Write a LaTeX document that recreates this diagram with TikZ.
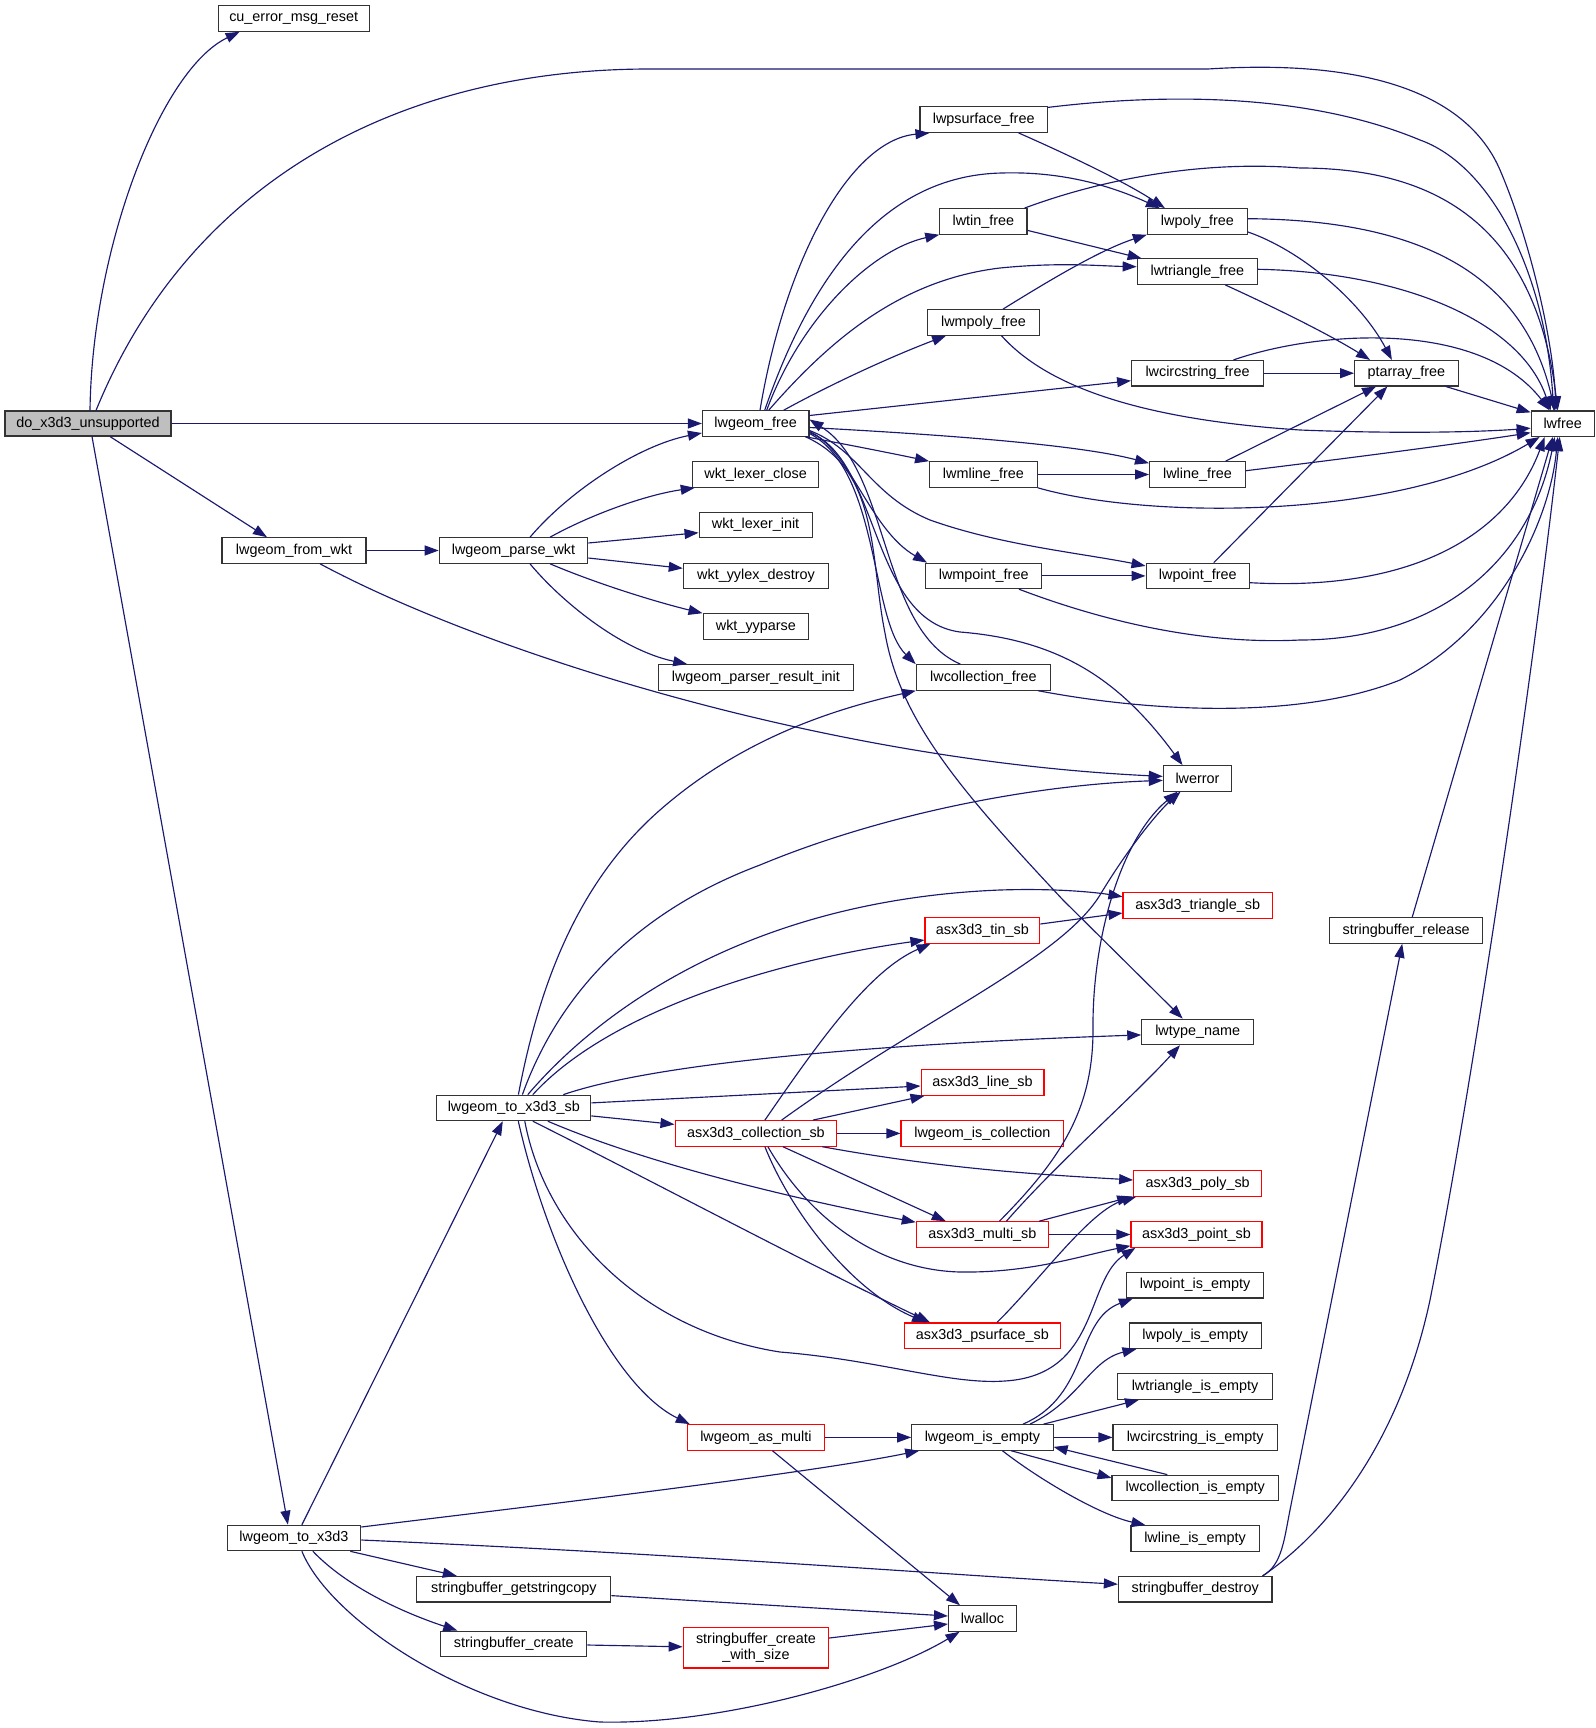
\documentclass[tikz,border=0pt]{standalone}
\usepackage{fontspec}
\setmainfont{Liberation Sans}
\usetikzlibrary{arrows.meta,calc}
\definecolor{edgec}{HTML}{191970}
\definecolor{bordc}{HTML}{333333}
\definecolor{redc}{HTML}{FF0000}
\definecolor{grayfill}{HTML}{BFBFBF}
\tikzset{
  nb/.style={draw=bordc, line width=1.1pt, fill=white, inner sep=0pt, minimum height=25.5pt, font=\fontsize{14.4}{15.5}\selectfont, text=black},
  rb/.style={nb, draw=redc},
  gb/.style={nb, fill=grayfill, minimum height=25pt},
  ed/.style={draw=edgec, line width=1.15pt, -{Triangle[length=14pt,width=10pt]}}
}
\begin{document}
\begin{tikzpicture}[x=1pt,y=-1pt]
\useasboundingbox (0,0) rectangle (1595,1728);
% nodes
\node[gb, minimum width=166pt] (do) at (88,423.5) {do\_x3d3\_unsupported};
\node[nb, minimum width=151pt] (cu) at (293.7,18.5) {cu\_error\_msg\_reset};
\node[nb, minimum width=63pt] (lwfree) at (1562.7,423.7) {lwfree};
\node[nb, minimum width=106.5pt] (lgfree) at (755.7,423.5) {lwgeom\_free};
\node[nb, minimum width=144pt] (fromwkt) at (294,550.5) {lwgeom\_from\_wkt};
\node[nb, minimum width=148.5pt] (parsewkt) at (513.5,550.5) {lwgeom\_parse\_wkt};
\node[nb, minimum width=126.6pt] (wlc) at (755.6,474.5) {wkt\_lexer\_close};
\node[nb, minimum width=113pt] (wli) at (755.6,525) {wkt\_lexer\_init};
\node[nb, minimum width=145.4pt] (wyd) at (756,576) {wkt\_yylex\_destroy};
\node[nb, minimum width=105.7pt] (wyp) at (755.9,626.5) {wkt\_yyparse};
\node[nb, minimum width=194.3pt] (prs) at (755.9,677.4) {lwgeom\_parser\_result\_init};
\node[nb, minimum width=127.4pt] (psf) at (983.7,119.7) {lwpsurface\_free};
\node[nb, minimum width=87.2pt] (tinf) at (983.4,221.4) {lwtin\_free};
\node[nb, minimum width=111.7pt] (mpolyf) at (983.5,322.4) {lwmpoly\_free};
\node[nb, minimum width=107.6pt] (mlinef) at (983.4,474.5) {lwmline\_free};
\node[nb, minimum width=116.3pt] (mpointf) at (983.7,575.9) {lwmpoint\_free};
\node[nb, minimum width=134.2pt] (collf) at (983.4,677.4) {lwcollection\_free};
\node[nb, minimum width=100pt] (polyf) at (1197.4,221.4) {lwpoly\_free};
\node[nb, minimum width=120.4pt] (trif) at (1197.4,271.7) {lwtriangle\_free};
\node[nb, minimum width=131.7pt] (circf) at (1197.5,373.2) {lwcircstring\_free};
\node[nb, minimum width=95.9pt] (linef) at (1197.5,474.5) {lwline\_free};
\node[nb, minimum width=103.5pt] (pointf) at (1197.8,575.9) {lwpoint\_free};
\node[nb, minimum width=68.3pt] (lwerror) at (1197.5,778.4) {lwerror};
\node[nb, minimum width=103.6pt] (ptaf) at (1406.4,373.2) {ptarray\_free};
\node[nb, minimum width=154pt] (tosb) at (513.8,1107.9) {lwgeom\_to\_x3d3\_sb};
\node[rb, minimum width=149.4pt] (trisb) at (1197.7,905.4) {asx3d3\_triangle\_sb};
\node[rb, minimum width=114.8pt] (tinsb) at (982.4,930.5) {asx3d3\_tin\_sb};
\node[nb, minimum width=111.8pt] (tname) at (1197.7,1031.9) {lwtype\_name};
\node[rb, minimum width=122.9pt] (linesb) at (982.5,1082.5) {asx3d3\_line\_sb};
\node[rb, minimum width=161.7pt] (collsb) at (755.9,1133.4) {asx3d3\_collection\_sb};
\node[rb, minimum width=162.8pt] (iscoll) at (982.4,1133.4) {lwgeom\_is\_collection};
\node[rb, minimum width=128pt] (polysb) at (1197.7,1183.5) {asx3d3\_poly\_sb};
\node[rb, minimum width=132.2pt] (multisb) at (982.4,1234.5) {asx3d3\_multi\_sb};
\node[rb, minimum width=131pt] (pointsb) at (1196.5,1234.5) {asx3d3\_point\_sb};
\node[nb, minimum width=137.4pt] (ptempty) at (1195.1,1285.2) {lwpoint\_is\_empty};
\node[rb, minimum width=155.6pt] (psfsb) at (982.4,1335.7) {asx3d3\_psurface\_sb};
\node[nb, minimum width=132.5pt] (polyempty) at (1195.3,1335.7) {lwpoly\_is\_empty};
\node[nb, minimum width=155pt] (triempty) at (1195,1386.5) {lwtriangle\_is\_empty};
\node[rb, minimum width=137.3pt] (asmulti) at (755.9,1437.4) {lwgeom\_as\_multi};
\node[nb, minimum width=141.3pt] (isempty) at (982.4,1437.4) {lwgeom\_is\_empty};
\node[nb, minimum width=164.4pt] (circempty) at (1195.2,1437.4) {lwcircstring\_is\_empty};
\node[nb, minimum width=166.6pt] (collempty) at (1195.3,1487.9) {lwcollection\_is\_empty};
\node[nb, minimum width=128.2pt] (lineempty) at (1195.1,1538.4) {lwline\_is\_empty};
\node[nb, minimum width=133.7pt] (tox3d3) at (293.9,1538) {lwgeom\_to\_x3d3};
\node[nb, minimum width=193.9pt] (sgsc) at (513.8,1589.2) {stringbuffer\_getstringcopy};
\node[nb, minimum width=153.6pt] (sdestroy) at (1195.2,1589.2) {stringbuffer\_destroy};
\node[nb, minimum width=68pt] (lwalloc) at (982.5,1618.5) {lwalloc};
\node[nb, minimum width=145.9pt] (screate) at (513.8,1643.8) {stringbuffer\_create};
\node[rb, minimum width=145.4pt, minimum height=40.4pt, align=center] (scws) at (755.9,1647.8) {stringbuffer\_create\\\_with\_size};
\node[nb, minimum width=153.1pt] (srelease) at (1406.2,930.5) {stringbuffer\_release};
% edges from do_x3d3_unsupported
\draw[ed] ($(do.north)+(2,0)$) .. controls (92,250) and (160,70) .. ($(cu.south west)+(22,0)$);
\draw[ed] ($(do.north)+(8,0)$) .. controls (190,180) and (400,69) .. (650,69) -- (1208,69) .. controls (1380,58) and (1470,100) .. (1500,170) .. controls (1530,240) and (1553,340) .. ($(lwfree.north)+(-6.7,0)$);
\draw[ed] (do.east) -- (lgfree.west);
\draw[ed] ($(do.south)+(22,0)$) -- ($(fromwkt.north)+(-27,0)$);
\draw[ed] ($(do.south)+(4,0)$) -- ($(tox3d3.north)+(-6,0)$);
% lwgeom_from_wkt / parse
\draw[ed] (fromwkt.east) -- (parsewkt.west);
\draw[ed] ($(fromwkt.south)+(26,0)$) .. controls (480,650) and (820,760) .. ($(lwerror.west)+(0,-2)$);
\draw[ed] ($(parsewkt.north)+(16.5,0)$) .. controls (570,490) and (640,445) .. ($(lgfree.west)+(0,9.5)$);
\draw[ed] ($(parsewkt.north)+(36.5,0)$) .. controls (590,515) and (645,495) .. ($(wlc.south west)+(3,0)$);
\draw[ed] ($(parsewkt.east)+(0,-7.5)$) -- ($(wli.west)+(0,7.7)$);
\draw[ed] ($(parsewkt.east)+(0,7.5)$) -- ($(wyd.west)+(0,-7.7)$);
\draw[ed] ($(parsewkt.south)+(36.5,0)$) .. controls (600,585) and (660,603) .. (wyp.north west);
\draw[ed] ($(parsewkt.south)+(16.5,0)$) .. controls (560,600) and (620,650) .. ($(prs.north west)+(29,0)$);
% lwgeom_free out
\draw[ed] ($(lgfree.north)+(4.3,0)$) .. controls (785,260) and (850,140) .. ($(psf.south west)+(10,0)$);
\draw[ed] ($(lgfree.north)+(9,0)$) .. controls (820,250) and (900,175) .. (1002,173) .. controls (1070,171) and (1120,190) .. ($(polyf.north west)+(13,0)$);
\draw[ed] ($(lgfree.north)+(11,0)$) .. controls (800,320) and (870,250) .. (tinf.south west);
\draw[ed] ($(lgfree.north)+(13,0)$) .. controls (830,340) and (900,280) .. (1000,268) .. controls (1060,262) and (1100,266) .. ($(trif.west)+(0,-5)$);
\draw[ed] ($(lgfree.north)+(28,0)$) .. controls (835,382) and (895,355) .. ($(mpolyf.south west)+(19,0)$);
\draw[ed] ($(lgfree.east)+(0,-8)$) -- ($(circf.west)+(0,7.5)$);
\draw[ed] ($(collf.north)+(-23,0)$) .. controls (880,630) and (890,470) .. ($(lgfree.east)+(0,-4)$);
\draw[ed] ($(lgfree.south east)+(-4,0)$) .. controls (850,445) and (900,455) .. (mlinef.north west);
\draw[ed] ($(lgfree.east)+(0,4)$) .. controls (950,435) and (1080,445) .. ($(linef.north west)+(0,2)$);
\draw[ed] ($(lgfree.east)+(0,8)$) .. controls (850,450) and (870,530) .. ($(mpointf.north west)+(2,0)$);
\draw[ed] ($(lgfree.east)+(0,7)$) .. controls (860,450) and (870,495) .. (930,520) .. controls (1000,545) and (1080,553) .. ($(pointf.west)+(0,-10)$);
\draw[ed] ($(lgfree.east)+(0,10)$) .. controls (880,470) and (870,620) .. (collf.north west);
\draw[ed] ($(lgfree.east)+(0,9)$) .. controls (880,460) and (870,620) .. (960,632) .. controls (1060,640) and (1120,680) .. ($(lwerror.north)+(-15,0)$);
\draw[ed] ($(lgfree.south east)+(-4,0)$) .. controls (880,470) and (870,560) .. (885,633) .. controls (900,720) and (960,790) .. (1063,900) -- ($(tname.north)+(-15,0)$);
% free functions to lwfree / ptarray
\draw[ed] ($(psf.north east)+(0,1)$) .. controls (1150,95) and (1300,90) .. (1420,140) .. controls (1490,165) and (1545,270) .. ($(lwfree.north)+(-9,0)$);
\draw[ed] ($(psf.south)+(35,0)$) .. controls (1080,160) and (1130,185) .. ($(polyf.north west)+(18,0)$);
\draw[ed] ($(tinf.north east)+(-3,0)$) .. controls (1100,180) and (1200,160) .. (1300,168) .. controls (1430,168) and (1535,220) .. ($(lwfree.north)+(-5,0)$);
\draw[ed] ($(tinf.east)+(0,9)$) -- ($(trif.north west)+(5,0)$);
\draw[ed] ($(mpolyf.north)+(19.5,0)$) .. controls (1050,280) and (1100,250) .. (polyf.south west);
\draw[ed] ($(mpolyf.south)+(18,0)$) .. controls (1050,390) and (1150,420) .. (1300,430) .. controls (1400,434) and (1480,432) .. ($(lwfree.west)+(0,4.5)$);
\draw[ed] ($(polyf.east)+(0,-2.7)$) .. controls (1430,220) and (1525,280) .. ($(lwfree.north)+(-8,0)$);
\draw[ed] ($(polyf.east)+(0,10.6)$) .. controls (1300,250) and (1360,300) .. ($(ptaf.north)+(-14.5,0)$);
\draw[ed] ($(trif.east)+(0,-2.4)$) .. controls (1400,272) and (1520,320) .. ($(lwfree.north)+(-12,0)$);
\draw[ed] ($(trif.south)+(28,0)$) .. controls (1280,310) and (1330,335) .. ($(ptaf.north west)+(16,0)$);
\draw[ed] (circf.east) -- (ptaf.west);
\draw[ed] ($(circf.north)+(36,0)$) .. controls (1320,330) and (1480,320) .. ($(lwfree.north)+(-13,0)$);
\draw[ed] ($(ptaf.south east)+(-13,0)$) -- ($(lwfree.north west)+(0,2)$);
\draw[ed] (mlinef.east) -- (linef.west);
\draw[ed] (mlinef.south east) .. controls (1150,520) and (1400,520) .. ($(lwfree.south west)+(9,0)$);
\draw[ed] ($(linef.east)+(0,-3.8)$) .. controls (1350,458) and (1450,445) .. ($(lwfree.west)+(0,9)$);
\draw[ed] ($(linef.north)+(28,0)$) -- ($(ptaf.south west)+(22,0)$);
\draw[ed] (mpointf.east) -- (pointf.west);
\draw[ed] ($(mpointf.south)+(35.3,0)$) .. controls (1100,620) and (1200,645) .. (1300,640) .. controls (1440,640) and (1530,560) .. ($(lwfree.south)+(-8,0)$);
\draw[ed] ($(pointf.north)+(16,0)$) -- ($(ptaf.south)+(-19,0)$);
\draw[ed] ($(pointf.east)+(0,6.8)$) .. controls (1420,592) and (1510,530) .. ($(lwfree.south west)+(14,0)$);
\draw[ed] ($(collf.south east)+(-13,0)$) .. controls (1150,712) and (1300,720) .. (1400,680) .. controls (1500,630) and (1550,520) .. ($(lwfree.south)+(-5,0)$);
% lwgeom_to_x3d3_sb out
\draw[ed] ($(tosb.north)+(4.6,0)$) .. controls (540,980) and (580,880) .. (660,810) .. controls (740,740) and (830,710) .. (collf.south west);
\draw[ed] ($(tosb.north)+(8.6,0)$) .. controls (560,990) and (640,910) .. (760,865) .. controls (880,815) and (1030,785) .. ($(lwerror.west)+(0,2)$);
\draw[ed] ($(tosb.north)+(14,0)$) .. controls (600,1010) and (750,900) .. (1000,890) .. controls (1060,888) and (1100,893) .. ($(trisb.west)+(0,-8.7)$);
\draw[ed] ($(tosb.north)+(19,0)$) .. controls (610,1010) and (780,960) .. ($(tinsb.west)+(0,9.5)$);
\draw[ed] ($(tosb.north east)+(-28,0)$) .. controls (650,1065) and (850,1045) .. ($(tname.west)+(0,3)$);
\draw[ed] ($(tosb.east)+(0,-5)$) -- ($(linesb.west)+(0,3.5)$);
\draw[ed] ($(tosb.east)+(0,8)$) -- ($(collsb.west)+(0,-9)$);
\draw[ed] ($(tosb.south)+(34,0)$) .. controls (650,1165) and (800,1200) .. ($(multisb.north west)+(0,1)$);
\draw[ed] ($(tosb.south)+(19,0)$) .. controls (650,1180) and (800,1260) .. ($(psfsb.north west)+(26,0)$);
\draw[ed] ($(tosb.south)+(11,0)$) .. controls (545,1230) and (640,1330) .. (780,1352) .. controls (880,1360) and (950,1385) .. (1005,1381) .. controls (1100,1375) and (1085,1280) .. ($(pointsb.south west)+(5,0)$);
\draw[ed] ($(tosb.south)+(4.5,0)$) .. controls (545,1240) and (610,1385) .. ($(asmulti.north west)+(3,0)$);
\draw[ed] ($(tox3d3.north)+(8,0)$) -- ($(tosb.south)+(-11,0)$);
% asx3d3_collection_sb out
\draw[ed] (collsb.east) -- (iscoll.west);
\draw[ed] ($(collsb.north)+(9,0)$) .. controls (820,1040) and (870,970) .. ($(tinsb.south west)+(6,0)$);
\draw[ed] ($(collsb.north)+(25.7,0)$) .. controls (920,1020) and (1060,960) .. (1100,895) .. controls (1130,845) and (1160,810) .. ($(lwerror.south)+(-17,0)$);
\draw[ed] ($(collsb.north)+(57,0)$) -- ($(linesb.south west)+(4,0)$);
\draw[ed] ($(collsb.south east)+(-15,0)$) .. controls (950,1170) and (1050,1175) .. ($(polysb.west)+(0,-3.5)$);
\draw[ed] ($(collsb.south)+(27,0)$) -- ($(multisb.north west)+(30,0)$);
\draw[ed] ($(collsb.south)+(9,0)$) .. controls (790,1210) and (850,1290) .. ($(psfsb.north west)+(22,0)$);
\draw[ed] ($(collsb.south)+(12,0)$) .. controls (810,1220) and (880,1270) .. (960,1272) .. controls (1030,1273) and (1080,1256) .. ($(pointsb.south west)+(0,-2)$);
% asx3d3_multi_sb out
\draw[ed] (multisb.east) -- (pointsb.west);
\draw[ed] ($(multisb.north east)+(-10,0)$) -- ($(polysb.south west)+(-2,0)$);
\draw[ed] ($(multisb.north)+(17,0)$) .. controls (1060,1160) and (1093,1110) .. (1093,1030) .. controls (1092,940) and (1120,840) .. ($(lwerror.south)+(-20,0)$);
\draw[ed] ($(multisb.north)+(24,0)$) .. controls (1060,1160) and (1130,1100) .. ($(tname.south)+(-17.7,0)$);
\draw[ed] ($(tinsb.east)+(0,-6.5)$) -- ($(trisb.west)+(0,7.6)$);
\draw[ed] ($(psfsb.north)+(14.6,0)$) .. controls (1040,1280) and (1090,1210) .. ($(polysb.south west)+(3,0)$);
% lwgeom_as_multi / is_empty
\draw[ed] (asmulti.east) -- (isempty.west);
\draw[ed] ($(asmulti.south)+(16.5,0)$) -- ($(lwalloc.north west)+(12,0)$);
\draw[ed] ($(isempty.north)+(40.6,0)$) .. controls (1090,1395) and (1075,1320) .. ($(ptempty.south west)+(7,0)$);
\draw[ed] ($(isempty.north)+(47.6,0)$) .. controls (1080,1400) and (1090,1360) .. ($(polyempty.south west)+(8,0)$);
\draw[ed] ($(isempty.north east)+(-10,0)$) -- ($(triempty.south west)+(22,0)$);
\draw[ed] (isempty.east) -- (circempty.west);
\draw[ed] ($(isempty.south)+(28.6,0)$) -- ($(collempty.west)+(0,-10)$);
\draw[ed] ($(collempty.north)+(-28,0)$) -- ($(isempty.east)+(0,9.5)$);
\draw[ed] ($(isempty.south)+(20,0)$) .. controls (1040,1480) and (1100,1515) .. ($(lineempty.north west)+(15,0)$);
% lwgeom_to_x3d3 out
\draw[ed] ($(tox3d3.east)+(0,-11)$) .. controls (500,1510) and (800,1475) .. ($(isempty.south west)+(8,0)$);
\draw[ed] ($(tox3d3.east)+(0,2)$) .. controls (700,1555) and (950,1575) .. ($(sdestroy.west)+(0,-5)$);
\draw[ed] ($(tox3d3.south east)+(-11,0)$) -- ($(sgsc.north)+(-57,0)$);
\draw[ed] ($(tox3d3.south)+(19,0)$) .. controls (350,1590) and (410,1615) .. ($(screate.north west)+(17,0)$);
\draw[ed] ($(tox3d3.south)+(8,0)$) .. controls (330,1620) and (470,1712) .. (600,1722) .. controls (720,1725) and (880,1680) .. ($(lwalloc.south)+(-23,0)$);
\draw[ed] ($(sgsc.east)+(0,6.4)$) -- ($(lwalloc.west)+(0,-2.5)$);
\draw[ed] ($(screate.east)+(0,1.2)$) -- ($(scws.west)+(0,-1)$);
\draw[ed] ($(scws.east)+(0,-9.8)$) -- ($(lwalloc.west)+(0,5.5)$);
% stringbuffer_destroy / release
\draw[ed] ($(sdestroy.north east)+(-10,0)$) .. controls (1282,1565) and (1284,1540) .. (1290,1510) -- ($(srelease.south)+(-4,0)$);
\draw[ed] ($(sdestroy.north east)+(-10,0)$) .. controls (1330,1530) and (1400,1440) .. (1430,1300) .. controls (1470,1100) and (1530,700) .. ($(lwfree.south)+(-3,0)$);
\draw[ed] ($(srelease.north)+(6,0)$) -- ($(lwfree.south)+(-10,0)$);
\end{tikzpicture}
\end{document}
